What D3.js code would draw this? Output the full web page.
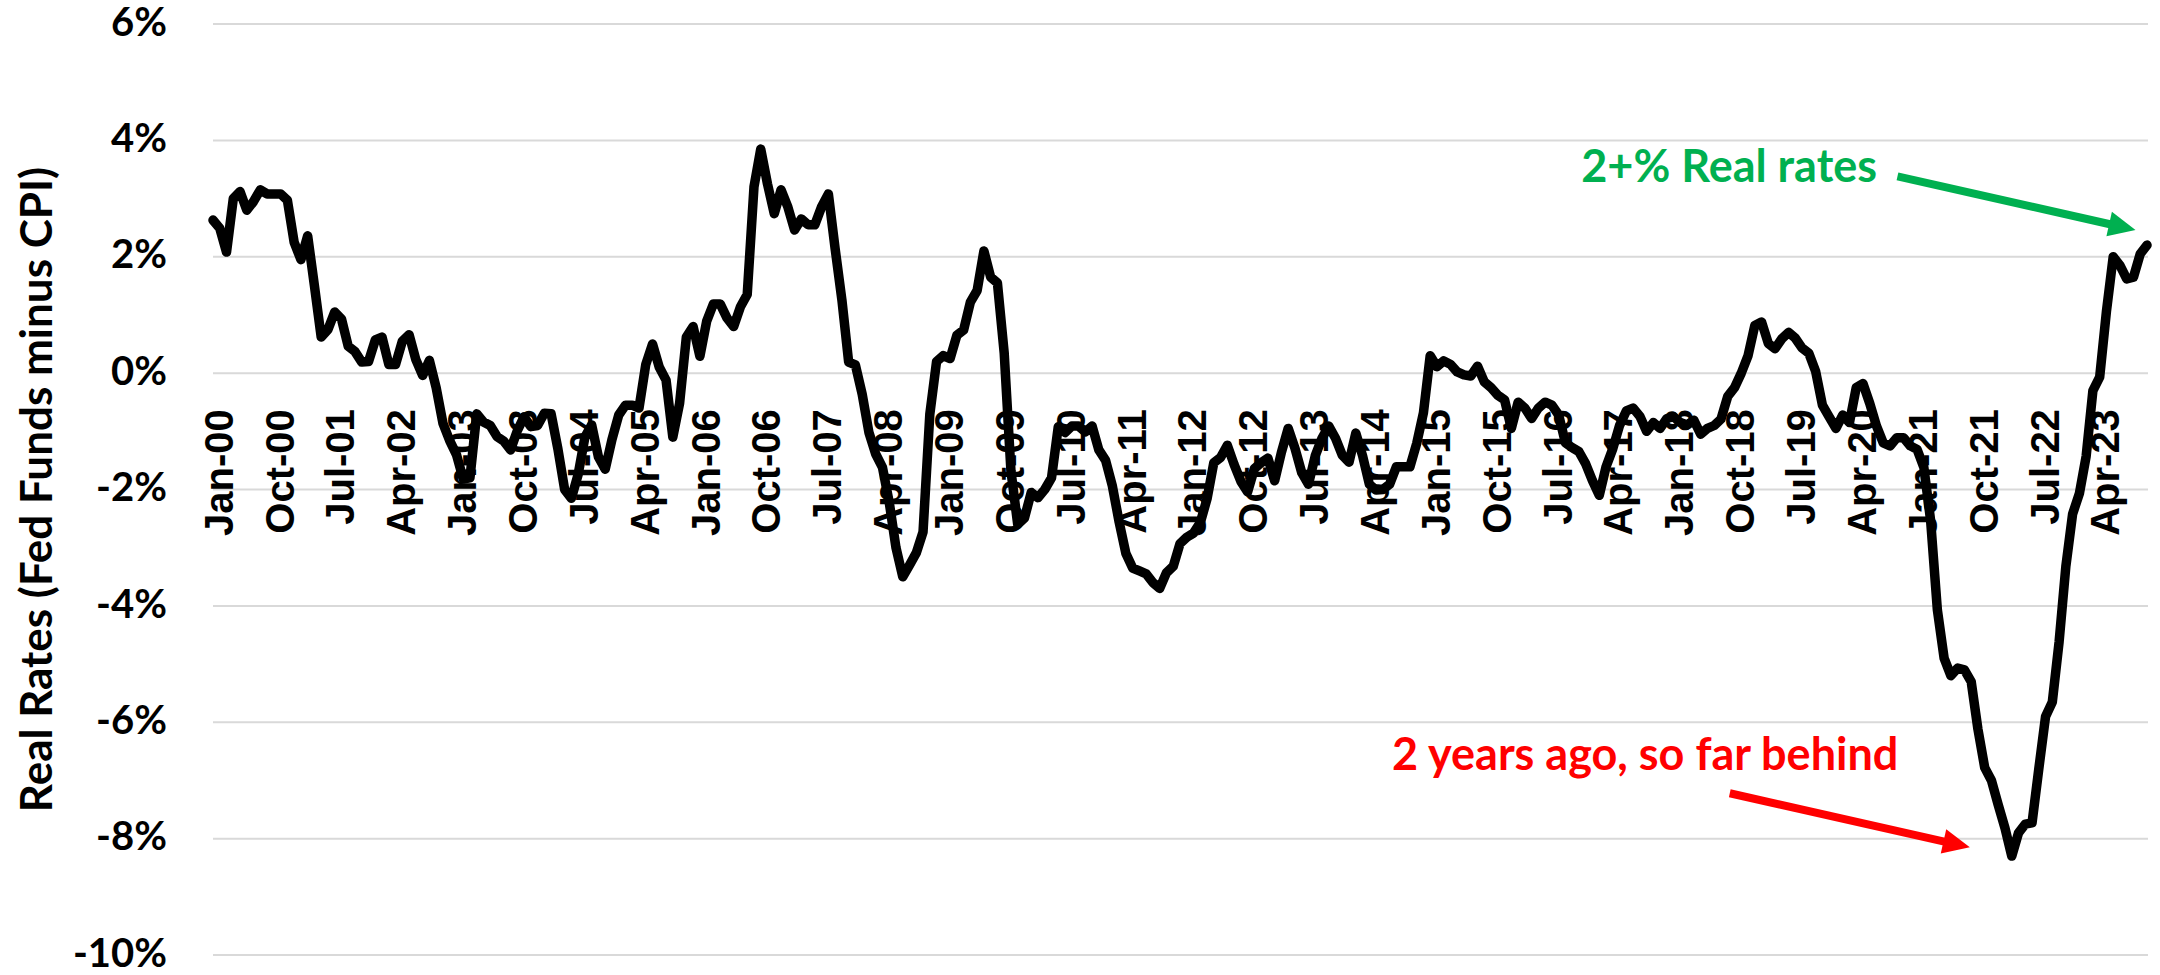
<!DOCTYPE html>
<html>
<head>
<meta charset="utf-8">
<style>
  html, body { margin: 0; padding: 0; background: #fff; }
  svg { display: block; }
</style>
</head>
<body>
<div id="chart"></div>
<script src="https://cdn.jsdelivr.net/npm/d3@7"></script>
<script>

var width = 2160, height = 975;

// monthly categories, Jan-00 .. Nov-23
var firstMonth = new Date(2000, 0, 1);
var lastMonth = new Date(2023, 10, 1);
var months = d3.timeMonth.range(firstMonth, d3.timeMonth.offset(lastMonth, 1));
var monthLabels = months.map(d3.timeFormat("%b-%y"));

var tickLabels = ["Jan-00", "Oct-00", "Jul-01", "Apr-02", "Jan-03", "Oct-03", "Jul-04", "Apr-05",
  "Jan-06", "Oct-06", "Jul-07", "Apr-08", "Jan-09", "Oct-09", "Jul-10", "Apr-11",
  "Jan-12", "Oct-12", "Jul-13", "Apr-14", "Jan-15", "Oct-15", "Jul-16", "Apr-17",
  "Jan-18", "Oct-18", "Jul-19", "Apr-20", "Jan-21", "Oct-21", "Jul-22", "Apr-23"];

var yTicks = [-10, -8, -6, -4, -2, 0, 2, 4, 6];

// real rate = fed funds minus CPI (%), one row per year
var realRates = [
  2.63, 2.49, 2.08, 3.00, 3.12, 2.80, 2.95, 3.15, 3.08, 3.08, 3.08, 2.97,        // 2000
  2.25, 1.95, 2.36, 1.50, 0.62, 0.75, 1.05, 0.93, 0.46, 0.37, 0.19, 0.20,        // 2001
  0.57, 0.62, 0.15, 0.15, 0.55, 0.66, 0.23, -0.04, 0.22, -0.25, -0.86, -1.16,    // 2002
  -1.40, -1.82, -1.80, -0.70, -0.84, -0.90, -1.09, -1.17, -1.32, -0.99, -0.75, -0.92, // 2003
  -0.90, -0.69, -0.70, -1.30, -2.00, -2.15, -1.74, -1.10, -0.89, -1.44, -1.65, -1.14, // 2004
  -0.72, -0.55, -0.55, -0.60, 0.15, 0.50, 0.10, -0.12, -1.10, -0.52, 0.62, 0.80, // 2005
  0.29, 0.89, 1.19, 1.19, 0.95, 0.80, 1.14, 1.35, 3.20, 3.85, 3.25, 2.74,        // 2006
  3.15, 2.86, 2.46, 2.65, 2.55, 2.55, 2.86, 3.08, 2.14, 1.26, 0.19, 0.14,        // 2007
  -0.36, -1.02, -1.39, -1.62, -2.22, -3.00, -3.50, -3.30, -3.09, -2.73, -0.71, 0.20, // 2008
  0.30, 0.25, 0.65, 0.74, 1.22, 1.42, 2.10, 1.65, 1.55, 0.35, -1.68, -2.60,      // 2009
  -2.49, -2.05, -2.14, -2.00, -1.80, -0.92, -1.02, -0.91, -0.91, -1.01, -0.91, -1.32, // 2010
  -1.50, -1.94, -2.56, -3.10, -3.35, -3.40, -3.45, -3.60, -3.70, -3.43, -3.32, -2.93, // 2011
  -2.82, -2.75, -2.57, -2.16, -1.54, -1.45, -1.24, -1.57, -1.86, -2.04, -1.64, -1.54, // 2012
  -1.46, -1.85, -1.36, -0.95, -1.29, -1.71, -1.91, -1.42, -1.12, -0.91, -1.12, -1.41, // 2013
  -1.53, -1.03, -1.42, -1.91, -2.01, -2.00, -1.91, -1.61, -1.61, -1.61, -1.21, -0.68, // 2014
  0.30, 0.11, 0.21, 0.15, 0.02, -0.03, -0.05, 0.12, -0.15, -0.25, -0.38, -0.46,  // 2015
  -0.95, -0.50, -0.60, -0.78, -0.60, -0.50, -0.55, -0.72, -1.20, -1.28, -1.35, -1.56, // 2016
  -1.85, -2.10, -1.61, -1.30, -0.90, -0.65, -0.60, -0.74, -1.00, -0.85, -0.95, -0.78, // 2017
  -0.75, -0.85, -0.89, -0.81, -1.05, -0.95, -0.90, -0.79, -0.40, -0.25, 0.00, 0.30,  // 2018
  0.82, 0.88, 0.51, 0.42, 0.59, 0.70, 0.60, 0.43, 0.34, 0.03, -0.55, -0.75,      // 2019
  -0.95, -0.72, -0.85, -0.25, -0.18, -0.52, -0.91, -1.20, -1.25, -1.11, -1.11, -1.25, // 2020
  -1.31, -1.62, -2.53, -4.07, -4.90, -5.20, -5.07, -5.10, -5.30, -6.12, -6.78, -7.00, // 2021
  -7.42, -7.82, -8.30, -7.90, -7.75, -7.73, -6.80, -5.90, -5.65, -4.62, -3.32, -2.42, // 2022
  -2.07, -1.43, -0.30, -0.07, 1.06, 2.00, 1.85, 1.62, 1.65, 2.05, 2.20           // 2023
];

var noteTexts = ["2+% Real rates", "2 years ago, so far behind"];
var noteColors = ["#00b050", "#ff0000"];

var svg = d3.select("#chart").append("svg")
  .attr("width", width)
  .attr("height", height)
  .style("background", "#fff");

var x = d3.scaleLinear()
  .domain([0, realRates.length - 1])
  .range([213, 2147]);

var y = d3.scaleLinear()
  .domain([-10, 6])
  .range([955, 24]);

// gridlines
svg.append("g")
  .selectAll("line")
  .data(yTicks)
  .join("line")
    .attr("x1", 213)
    .attr("x2", 2148)
    .attr("y1", d => y(d))
    .attr("y2", d => y(d))
    .attr("stroke", "#d9d9d9")
    .attr("stroke-width", 2);

// y axis labels
var yAxis = svg.append("g")
  .attr("transform", "translate(213,0)")
  .call(d3.axisLeft(y).tickValues(yTicks).tickSize(0).tickPadding(46).tickFormat(d => d + "%"));
yAxis.select(".domain").remove();
yAxis.selectAll("text")
  .attr("dy", "0.28em")
  .style("font-family", "Lato, 'Open Sans', sans-serif")
  .style("font-weight", "bold")
  .style("font-size", "40px")
  .attr("fill", "#000");

// x axis labels, rotated, sitting under the 0% line
var tickIdx = tickLabels.map(t => monthLabels.indexOf(t));
var xAxis = svg.append("g")
  .attr("transform", "translate(0," + y(0) + ")")
  .call(d3.axisBottom(x).tickValues(tickIdx).tickSize(0).tickFormat(i => monthLabels[i]));
xAxis.select(".domain").remove();
xAxis.selectAll("text")
  .attr("transform", "translate(0,36) rotate(-90)")
  .attr("x", 0)
  .attr("y", 0)
  .attr("dy", "0.48em")
  .attr("text-anchor", "end")
  .style("font-family", "'Liberation Sans', Arial, sans-serif")
  .style("font-weight", "bold")
  .style("font-size", "40px")
  .attr("fill", "#000");

// y axis title
svg.append("text")
  .attr("transform", "translate(52," + y(-2) + ") rotate(-90)")
  .attr("text-anchor", "middle")
  .style("font-family", "Lato, 'Open Sans', sans-serif")
  .style("font-weight", "bold")
  .style("font-size", "44px")
  .text("Real Rates (Fed Funds minus CPI)");

// the series
var line = d3.line()
  .x((d, i) => x(i))
  .y(d => y(d));

svg.append("path")
  .datum(realRates)
  .attr("d", line)
  .attr("fill", "none")
  .attr("stroke", "#000")
  .attr("stroke-width", 9.5)
  .attr("stroke-linejoin", "round")
  .attr("stroke-linecap", "round");

// annotations: text centre and arrow ends in data units (month index, %)
var notePlaces = [
  {at: [224.2, 3.28], from: [249.1, 3.38], to: [284.3, 2.46]},
  {at: [211.8, -6.82], from: [224.3, -7.22], to: [259.8, -8.15]}
];

notePlaces.forEach(function(p, k) {
  var col = noteColors[k];
  svg.append("text")
    .attr("x", x(p.at[0]))
    .attr("y", y(p.at[1]))
    .attr("text-anchor", "middle")
    .style("font-family", "Lato, 'Open Sans', sans-serif")
    .style("font-weight", "bold")
    .style("font-size", "45px")
    .attr("fill", col)
    .text(noteTexts[k]);

  var x0 = x(p.from[0]), y0 = y(p.from[1]);
  var x1 = x(p.to[0]), y1 = y(p.to[1]);
  var ang = Math.atan2(y1 - y0, x1 - x0);
  var headL = 27, headW = 25;
  var bx = x1 - headL * Math.cos(ang), by = y1 - headL * Math.sin(ang);
  var px = -Math.sin(ang) * headW / 2, py = Math.cos(ang) * headW / 2;

  svg.append("line")
    .attr("x1", x0).attr("y1", y0)
    .attr("x2", bx + 2 * Math.cos(ang)).attr("y2", by + 2 * Math.sin(ang))
    .attr("stroke", col)
    .attr("stroke-width", 8);

  svg.append("path")
    .attr("d", "M" + x1 + "," + y1 + "L" + (bx + px) + "," + (by + py) + "L" + (bx - px) + "," + (by - py) + "Z")
    .attr("fill", col);
});

</script>
</body>
</html>
